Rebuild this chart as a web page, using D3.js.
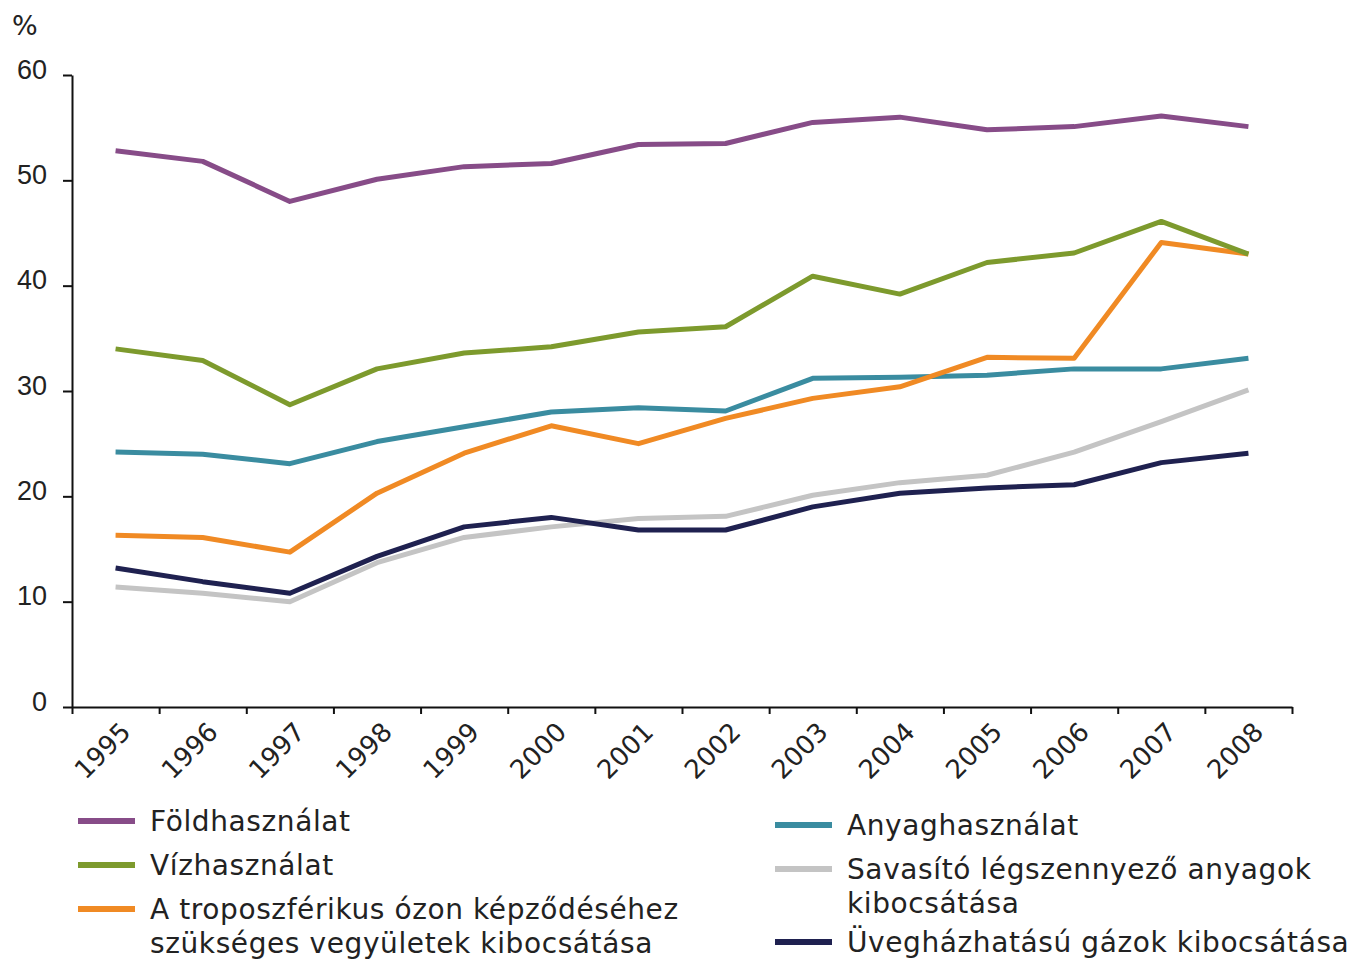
<!DOCTYPE html>
<html>
<head>
<meta charset="utf-8">
<script src="https://cdn.jsdelivr.net/npm/d3@7"></script>
<style>
  body { margin: 0; background: #fff; }
  svg { display: block; font-family: "DejaVu Sans", Verdana, sans-serif; }
  .axis path, .axis line { stroke: #111; stroke-width: 2; }
  .axis text { fill: #222; }
  .y text { font-size: 27px; }
  .xlabels text { font-size: 26px; }
  .legend text { fill: #222; font-size: 28px; letter-spacing: 0.6px; }
</style>
</head>
<body>
<svg id="chart" width="1354" height="961"></svg>
<script>
// years on the x axis
var years = [1995, 1996, 1997, 1998, 1999, 2000, 2001, 2002, 2003, 2004, 2005, 2006, 2007, 2008];
var yTicks = [0, 10, 20, 30, 40, 50, 60];

// series values (%)
var foldhasznalat = [52.8, 51.8, 48.0, 50.1, 51.3, 51.6, 53.4, 53.5, 55.5, 56.0, 54.8, 55.1, 56.1, 55.1];
var vizhasznalat  = [34.0, 32.9, 28.7, 32.1, 33.6, 34.2, 35.6, 36.1, 40.9, 39.2, 42.2, 43.1, 46.1, 43.0];
var ozon          = [16.3, 16.1, 14.7, 20.3, 24.1, 26.7, 25.0, 27.4, 29.3, 30.4, 33.2, 33.1, 44.1, 43.0];
var anyaghasznalat = [24.2, 24.0, 23.1, 25.2, 26.6, 28.0, 28.4, 28.1, 31.2, 31.3, 31.5, 32.1, 32.1, 33.1];
var savasito      = [11.4, 10.8, 10.0, 13.7, 16.1, 17.1, 17.9, 18.1, 20.1, 21.3, 22.0, 24.2, 27.1, 30.1];
var uveghaz       = [13.2, 11.9, 10.8, 14.3, 17.1, 18.0, 16.8, 16.8, 19.0, 20.3, 20.8, 21.1, 23.2, 24.1];

var seriesNames = [
  "Földhasználat",
  "Vízhasználat",
  "A troposzférikus ózon képződéséhez|szükséges vegyületek kibocsátása",
  "Anyaghasználat",
  "Savasító légszennyező anyagok|kibocsátása",
  "Üvegházhatású gázok kibocsátása"
];
var seriesValues = [foldhasznalat, vizhasznalat, ozon, anyaghasznalat, savasito, uveghaz];
var colors = ["#874c88", "#7d9a2d", "#f08a24", "#3a8ca0", "#c4c4c4", "#1f2150"];
// drawing order: bottom lines first
var drawOrder = [4, 5, 3, 2, 1, 0];

var svg = d3.select("#chart");

var margin = {left: 72, right: 62, top: 75},
    plotBottom = 707;

var x = d3.scaleLinear()
    .domain([years[0] - 0.5, years[years.length - 1] + 0.5])
    .range([margin.left, 1354 - margin.right]);

var y = d3.scaleLinear()
    .domain([0, 60])
    .range([plotBottom, margin.top]);

// y axis
svg.append("g")
    .attr("class", "axis y")
    .attr("transform", "translate(" + margin.left + ",0)")
    .call(d3.axisLeft(y).tickValues(yTicks).tickSize(9).tickSizeOuter(0).tickPadding(16))
    .call(function(g) { g.selectAll("text").attr("dy", "0.12em"); });

// x axis: ticks on the boundaries between years
var bounds = years.map(function(d) { return d - 0.5; }).concat([years[years.length - 1] + 0.5]);
svg.append("g")
    .attr("class", "axis x")
    .attr("transform", "translate(0," + plotBottom + ")")
    .call(d3.axisBottom(x).tickValues(bounds).tickSize(7).tickSizeOuter(0).tickFormat(""));

// year labels
svg.append("g")
    .attr("class", "axis xlabels")
    .selectAll("text")
    .data(years)
    .enter().append("text")
    .attr("transform", function(d) { return "translate(" + (x(d) + 10) + "," + (plotBottom + 20) + ") rotate(-45)"; })
    .attr("text-anchor", "end")
    .attr("dy", "0.36em")
    .text(function(d) { return d; });

// unit label
svg.append("text")
    .attr("x", 12)
    .attr("y", 35)
    .attr("font-size", 27)
    .attr("fill", "#222")
    .text("%");

var line = d3.line()
    .x(function(d, i) { return x(years[i]); })
    .y(function(d) { return y(d); });

svg.append("g")
    .selectAll("path")
    .data(drawOrder)
    .enter().append("path")
    .attr("d", function(k) { return line(seriesValues[k]); })
    .attr("fill", "none")
    .attr("stroke", function(k) { return colors[k]; })
    .attr("stroke-width", 5)
    .attr("stroke-linejoin", "round");

// legend, two columns
var legendPos = [
  {x: 78, y: 821}, {x: 78, y: 865}, {x: 78, y: 909},
  {x: 775, y: 825}, {x: 775, y: 869}, {x: 775, y: 942}
];

var legend = svg.append("g").attr("class", "legend");
var item = legend.selectAll("g")
    .data(seriesNames)
    .enter().append("g")
    .attr("transform", function(d, i) { return "translate(" + legendPos[i].x + "," + legendPos[i].y + ")"; });

item.append("line")
    .attr("x1", 0).attr("x2", 57)
    .attr("y1", 0).attr("y2", 0)
    .attr("stroke", function(d, i) { return colors[i]; })
    .attr("stroke-width", 6);

item.append("text")
    .attr("x", 72)
    .attr("y", 0)
    .selectAll("tspan")
    .data(function(d) { return d.split("|"); })
    .enter().append("tspan")
    .attr("x", 72)
    .attr("dy", function(d, i) { return i === 0 ? "0.36em" : "34px"; })
    .text(function(d) { return d; });
</script>
</body>
</html>
